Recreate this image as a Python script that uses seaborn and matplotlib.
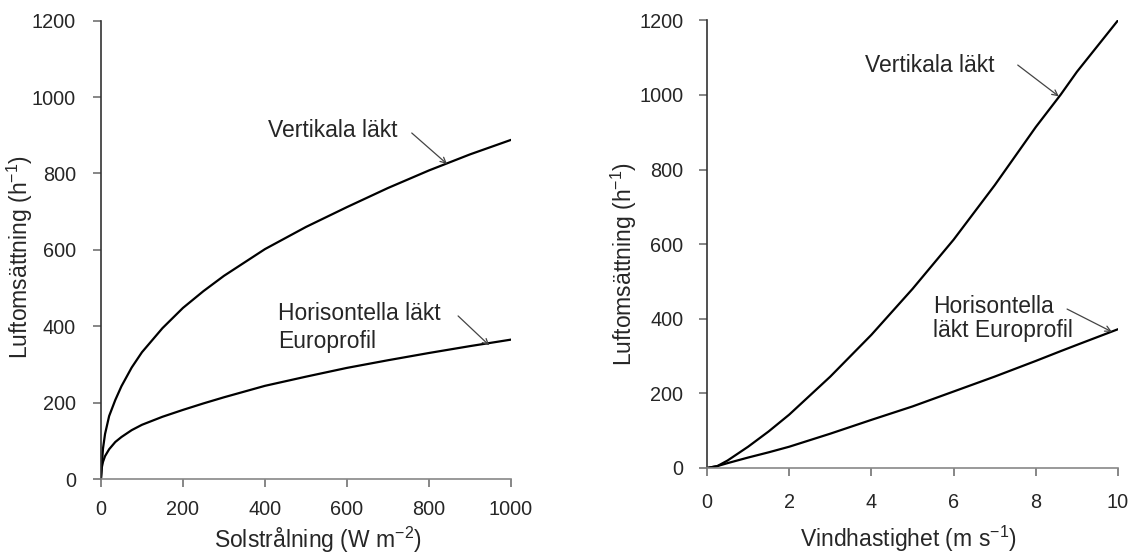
import pandas as pd
import matplotlib.pyplot as plt
import seaborn as sns

# Values
sol_x = [0, 2, 5, 10, 20, 35, 50, 75, 100, 150, 200, 250, 300, 400, 500, 600, 700, 800, 900, 1000]
sol_vertikal = [0, 35, 80, 118, 165, 207, 243, 292, 332, 395, 448, 492, 532, 602, 660, 712, 762, 808, 850, 888]
sol_horisontell = [0, 30, 45, 60, 78, 97, 110, 128, 142, 163, 181, 198, 214, 244, 268, 291, 311, 330, 348, 365]

vind_x = [0, 0.25, 0.5, 1, 1.5, 2, 3, 4, 5, 6, 7, 8, 8.6, 9, 10]
vind_vertikal = [0, 5, 20, 57, 98, 143, 245, 357, 480, 612, 758, 914, 1000, 1062, 1200]
vind_horisontell = [0, 5, 13, 28, 42, 57, 92, 129, 165, 205, 245, 287, 313, 330, 372]

serie = ["Vertikala läkt", "Horisontella läkt"]
sol_df = pd.DataFrame({"x": sol_x * 2,
                       "y": sol_vertikal + sol_horisontell,
                       "serie": [serie[0]] * len(sol_x) + [serie[1]] * len(sol_x)})
vind_df = pd.DataFrame({"x": vind_x * 2,
                        "y": vind_vertikal + vind_horisontell,
                        "serie": [serie[0]] * len(vind_x) + [serie[1]] * len(vind_x)})

sns.set_style("ticks")
plt.rcParams["font.family"] = ["Liberation Sans", "DejaVu Sans"]
plt.rcParams["mathtext.fontset"] = "custom"
plt.rcParams["mathtext.rm"] = "Liberation Sans"
plt.rcParams["mathtext.it"] = "Liberation Sans:italic"

fig = plt.figure(figsize=(11.33, 5.57), dpi=100)
ax1 = fig.add_axes([0.0891, 0.1400, 0.3619, 0.8228])
ax2 = fig.add_axes([0.6240, 0.1598, 0.3628, 0.8038])

arrow = dict(arrowstyle="->", color="#444444", lw=0.9, shrinkA=0, shrinkB=0)
txt = 16.5

# ---- Left: Solstrålning ----
sns.lineplot(data=sol_df, x="x", y="y", hue="serie", palette=["black", "black"],
             linewidth=1.6, legend=False, ax=ax1)
ax1.set_xlim(0, 1000)
ax1.set_ylim(0, 1200)
ax1.set_xticks(range(0, 1001, 200))
ax1.set_yticks(range(0, 1201, 200))
ax1.set_xlabel("Solstrålning (W m$^{\\mathrm{-2}}$)", fontsize=txt)
ax1.set_ylabel("Luftomsättning (h$^{\\mathrm{-1}}$)", fontsize=txt)
ax1.xaxis.set_label_coords(0.530, -0.100)
ax1.yaxis.set_label_coords(-0.160, 0.484)
ax1.text(407, 895, "Vertikala läkt", fontsize=txt, ha="left", va="baseline")
ax1.annotate("", xy=(844, 825), xytext=(758, 906), arrowprops=arrow)
ax1.text(432, 416, "Horisontella läkt", fontsize=txt, ha="left", va="baseline")
ax1.text(432, 343, "Europrofil", fontsize=txt, ha="left", va="baseline")
ax1.annotate("", xy=(947, 350), xytext=(871, 427), arrowprops=arrow)
ax1.tick_params(axis="y", pad=12)
ax1.tick_params(axis="x", pad=9)

# ---- Right: Vindhastighet ----
sns.lineplot(data=vind_df, x="x", y="y", hue="serie", palette=["black", "black"],
             linewidth=1.6, legend=False, ax=ax2)
ax2.set_xlim(0, 10)
ax2.set_ylim(0, 1200)
ax2.set_xticks(range(0, 11, 2))
ax2.set_yticks(range(0, 1201, 200))
ax2.set_xlabel("Vindhastighet (m s$^{\\mathrm{-1}}$)", fontsize=txt)
ax2.set_ylabel("Luftomsättning (h$^{\\mathrm{-1}}$)", fontsize=txt)
ax2.xaxis.set_label_coords(0.490, -0.125)
ax2.yaxis.set_label_coords(-0.165, 0.456)
ax2.text(3.84, 1061, "Vertikala läkt", fontsize=txt, ha="left", va="baseline")
ax2.annotate("", xy=(8.56, 996), xytext=(7.56, 1080), arrowprops=arrow)
ax2.text(5.50, 415, "Horisontella", fontsize=txt, ha="left", va="baseline")
ax2.text(5.50, 351, "läkt Europrofil", fontsize=txt, ha="left", va="baseline")
ax2.annotate("", xy=(9.85, 365), xytext=(8.76, 426), arrowprops=arrow)
ax2.tick_params(axis="y", pad=11)
ax2.tick_params(axis="x", pad=12)

for ax in (ax1, ax2):
    sns.despine(ax=ax)
    ax.spines["left"].set_color("#333333")
    ax.spines["bottom"].set_color("#888888")
    ax.spines["left"].set_linewidth(1.2)
    ax.spines["bottom"].set_linewidth(1.2)
    ax.tick_params(axis="both", labelsize=14.3, direction="out", length=6,
                   width=1.1, color="#666666")

plt.savefig("out.png", dpi=100)
plt.close()
